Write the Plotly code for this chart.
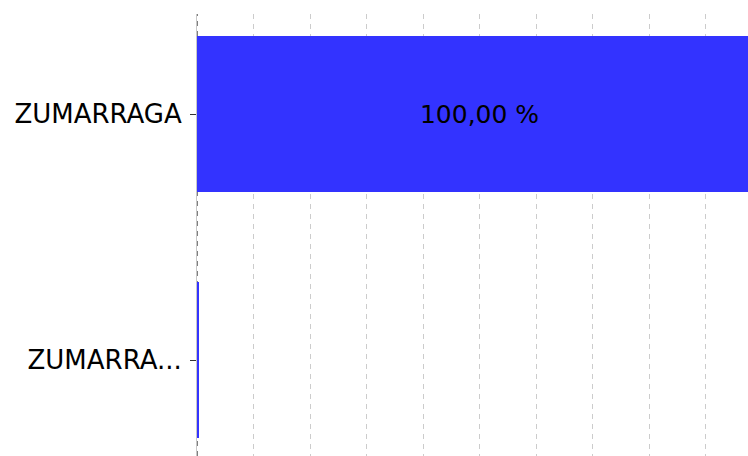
import plotly.graph_objects as go

categories = ["ZUMARRAGA", "ZUMARRA..."]
values = [100.0, 0.18]
labels = ["100,00 %", ""]

fig = go.Figure()
fig.add_trace(go.Bar(
    y=categories, x=values, orientation="h",
    text=labels, textposition="inside", insidetextanchor="middle",
    textfont=dict(family="DejaVu Sans", size=25, color="black"),
    marker=dict(color="#3333ff", line=dict(width=0)),
    cliponaxis=True,
))
fig.add_vline(x=0, layer="below", line=dict(color="black", width=1, dash="5px,5px"))
fig.update_layout(
    width=748, height=456,
    margin=dict(l=197, r=0, t=14, b=0, pad=0),
    plot_bgcolor="white", paper_bgcolor="white",
    bargap=0.366, showlegend=False,
    font=dict(family="DejaVu Sans", size=26, color="black"),
)
fig.update_xaxes(range=[0, 97.52], dtick=10, showticklabels=False,
                 showgrid=True, gridcolor="#cccccc", griddash="5px,5px", gridwidth=1,
                 zeroline=False)
fig.update_yaxes(range=[1.39, -0.4065], ticks="outside", ticklen=6, tickcolor="#333333",
                 showline=True, linecolor="#c8c8c8", linewidth=1, showgrid=False,
                 layer="below traces", ticklabelstandoff=3,
                 tickfont=dict(family="DejaVu Sans", size=26, color="black"))
fig.write_html("out.html", config={"displayModeBar": False},
               post_script="document.body.style.margin='0';document.body.style.overflow='hidden';")
